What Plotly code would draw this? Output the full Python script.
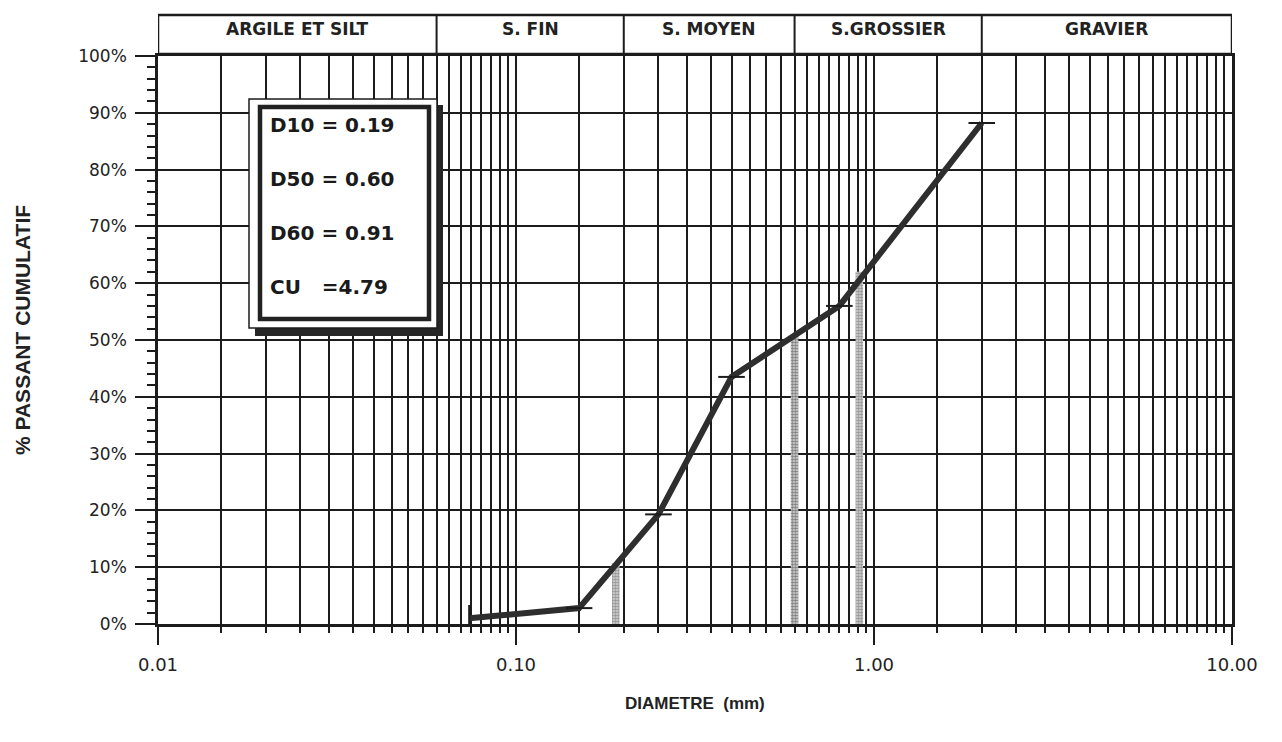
import numpy as np
import plotly.graph_objects as go

# ---------------- data ----------------
DIAMETRE_MM = [0.074, 0.15, 0.25, 0.40, 0.80, 2.00]
PASSANT_PCT = [1.0, 2.8, 19.3, 43.5, 56.0, 88.2]
POINT_SYMBOLS = ["line-ns", "line-ew", "line-ew", "line-ew", "line-ew", "line-ew"]

D_NAMES = ["D10", "D50", "D60"]
D_VALUES = [0.19, 0.60, 0.91]
D_TOPS = [10.7, 51.0, 62.0]
D_TEXT = ["0.19", "0.60", "0.91"]
CU_TEXT = "4.79"

CLASS_LABELS = ["ARGILE ET SILT", "S. FIN", "S. MOYEN", "S.GROSSIER", "GRAVIER"]
CLASS_BOUNDS = [0.01, 0.06, 0.2, 0.6, 2.0, 10.0]

X_TICKS = [0.01, 0.1, 1, 10]
X_TICKTEXT = ["0.01", "0.10", "1.00", "10.00"]
Y_TICKS = [0, 10, 20, 30, 40, 50, 60, 70, 80, 90, 100]
Y_TICKTEXT = [f"{v}%" for v in Y_TICKS]

# vertical rulings of the printed paper
GRID_X = list(np.round(np.arange(0.015, 0.0951, 0.005), 4)) + \
         list(np.round(np.arange(0.15, 0.951, 0.05), 3)) + \
         list(np.round(np.arange(1.5, 9.51, 0.5), 2))

# ---------------- layout geometry (pixels) ----------------
W, H = 1282, 742
L, R, T, B = 158, 1232, 56, 624


def px_x(p):
    return (p - L) / (R - L)


def px_y(p):
    return (B - p) / (B - T)


INK = "#1c1c1c"
fig = go.Figure()

# stippled D-bars
half = 10 ** (3.8 / 358.0)
for d, top, fg in zip(D_VALUES, D_TOPS, ["#555555", "#2a2a2a", "#555555"]):
    fig.add_trace(go.Scatter(
        x=[d / half, d * half, d * half, d / half, d / half],
        y=[-0.4, -0.4, top, top, -0.4],
        mode="lines", fill="toself", line=dict(width=0, color="rgba(0,0,0,0)"),
        fillcolor="#b8b8b8",
        fillpattern=dict(shape=".", size=3, solidity=0.65, fgcolor=fg, bgcolor="#d8d8d8"),
        hoverinfo="skip", showlegend=False,
    ))

# grading curve
fig.add_trace(go.Scatter(
    x=DIAMETRE_MM, y=PASSANT_PCT, mode="lines+markers",
    line=dict(color="#2e2e2e", width=6),
    marker=dict(symbol=POINT_SYMBOLS, size=19, color=INK,
                line=dict(color=INK, width=2)),
    showlegend=False,
))

fig.update_xaxes(
    type="log", range=[-2, 1],
    tickmode="array", tickvals=X_TICKS, ticktext=X_TICKTEXT,
    ticks="outside", ticklen=18, tickwidth=2, tickcolor=INK,
    tickfont=dict(family="DejaVu Sans", size=18, color="#222"),
    ticklabelstandoff=5,
    showgrid=True, gridcolor=INK, gridwidth=2,
    showline=True, linecolor=INK, linewidth=2.5, mirror=True,
    zeroline=False,
    minor=dict(tickmode="array", tickvals=GRID_X, ticks="outside", ticklen=6,
               tickwidth=2, tickcolor=INK, showgrid=True, gridcolor=INK, gridwidth=2),
)
fig.update_yaxes(
    range=[0, 100],
    tickmode="array", tickvals=Y_TICKS, ticktext=Y_TICKTEXT,
    ticks="outside", ticklen=20, tickwidth=2, tickcolor=INK,
    tickfont=dict(family="DejaVu Sans", size=17, color="#222"),
    ticklabelstandoff=5,
    showgrid=True, gridcolor=INK, gridwidth=2,
    showline=True, linecolor=INK, linewidth=2.5, mirror=True,
    zeroline=False,
    minor=dict(dtick=2, ticks="outside", ticklen=8, tickwidth=2, tickcolor=INK,
               showgrid=False),
)

shapes = []
# header band with soil classes
hy0, hy1 = px_y(54), px_y(15)
shapes.append(dict(type="rect", xref="x", yref="paper", x0=CLASS_BOUNDS[0], x1=CLASS_BOUNDS[-1],
                   y0=hy0, y1=hy1, line=dict(color=INK, width=2.5), fillcolor="white", layer="above"))
for b in CLASS_BOUNDS[1:-1]:
    shapes.append(dict(type="line", xref="x", yref="paper", x0=b, x1=b, y0=hy0, y1=hy1,
                       line=dict(color=INK, width=2), layer="above"))

# results box (shadow, frame, inner thick frame)
shapes.append(dict(type="rect", xref="paper", yref="paper", x0=px_x(255), x1=px_x(443),
                   y0=px_y(336), y1=px_y(105), line=dict(width=0), fillcolor="#262626", layer="above"))
shapes.append(dict(type="rect", xref="paper", yref="paper", x0=px_x(249), x1=px_x(437),
                   y0=px_y(328), y1=px_y(99), line=dict(color=INK, width=1.5), fillcolor="white",
                   layer="above"))
shapes.append(dict(type="rect", xref="paper", yref="paper", x0=px_x(260), x1=px_x(429),
                   y0=px_y(319), y1=px_y(107), line=dict(color="#222", width=4.5), layer="above"))

annotations = []
for i, lab in enumerate(CLASS_LABELS):
    xc = np.sqrt(CLASS_BOUNDS[i] * CLASS_BOUNDS[i + 1])
    annotations.append(dict(x=np.log10(xc), y=px_y(29), xref="x", yref="paper",
                            xanchor="center", yanchor="middle",
                            text=f"<b>{lab}</b>", showarrow=False,
                            font=dict(family="DejaVu Sans", size=17, color="#222")))

box_lines = [f"{n}\u00a0=\u00a0{v}" for n, v in zip(D_NAMES, D_TEXT)] + [f"CU\u00a0\u00a0\u00a0={CU_TEXT}"]
for txt, yp in zip(box_lines, [125, 179, 233, 287]):
    annotations.append(dict(x=px_x(268), y=px_y(yp), xref="paper", yref="paper",
                            xanchor="left", yanchor="middle", text=f"<b>{txt}</b>",
                            showarrow=False,
                            font=dict(family="DejaVu Sans", size=20, color="#1a1a1a")))

annotations.append(dict(x=0.5, y=0, xref="paper", yref="paper", yshift=-79,
                        xanchor="center", yanchor="middle", showarrow=False,
                        text="<b>DIAMETRE  (mm)</b>",
                        font=dict(family="Liberation Sans", size=17, color="#222")))
annotations.append(dict(x=0, y=px_y(330), xref="paper", yref="paper", xshift=-136,
                        xanchor="center", yanchor="middle", showarrow=False, textangle=-90,
                        text="<b>% PASSANT CUMULATIF</b>",
                        font=dict(family="Liberation Sans", size=21, color="#222")))

fig.update_layout(
    width=W, height=H, autosize=False,
    margin=dict(l=L, r=W - R, t=T, b=H - B, pad=0),
    paper_bgcolor="white", plot_bgcolor="white",
    font=dict(family="Liberation Sans", color="#222"),
    shapes=shapes, annotations=annotations,
    showlegend=False,
)

fig.write_html("out.html", config={"displayModeBar": False},
               post_script="document.body.style.margin='0';document.body.style.overflow='hidden';")
